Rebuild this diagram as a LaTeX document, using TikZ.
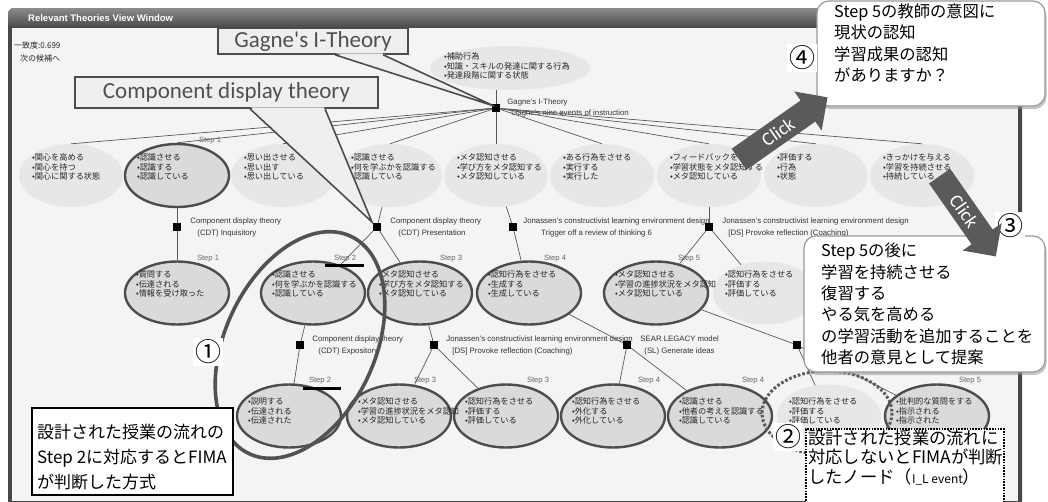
\documentclass[tikz,border=0pt]{standalone}
\usepackage{fontspec}
\setmainfont{Liberation Sans}
\newfontfamily\jpfont{Noto Sans CJK JP}
\newfontfamily\calfont{Carlito}
\usetikzlibrary{positioning,shapes.geometric,shapes.arrows,shadows}
\definecolor{winbg}{HTML}{F4F4F4}
\definecolor{callfill}{HTML}{EFEFEF}
\definecolor{evfill}{HTML}{E7E7E7}
\definecolor{evselfill}{HTML}{DADADA}
\definecolor{evline}{HTML}{4D4D4D}
\definecolor{calltext}{HTML}{505050}
\definecolor{clickgray}{HTML}{5A5A5A}
\begin{document}
\begin{tikzpicture}[x=1pt,y=-1pt,
  ev/.style={ellipse, fill=evfill, minimum width=104pt, minimum height=63pt, inner sep=0pt},
  evsel/.style={ev, fill=evselfill, draw=evline, line width=2.4pt},
  evtxt/.style={anchor=west, align=left, inner sep=0pt, text=black!85, font=\jpfont\fontsize{8.2}{9.5}\selectfont},
  uitxt/.style={anchor=west, inner sep=0pt, text=black!85, font=\jpfont\fontsize{8}{8}\selectfont},
  wintitle/.style={anchor=west, inner sep=0pt, text=white, font=\bfseries\fontsize{9.5}{9.5}\selectfont},
  thsq/.style={fill=black, minimum size=8pt, inner sep=0pt},
  thlbl/.style={anchor=west, align=left, inner sep=0pt, text=black!80, font=\fontsize{7.8}{12}\selectfont},
  steplbl/.style={inner sep=0pt, text=black!60, font=\fontsize{7.6}{8}\selectfont},
  stepbar/.style={line width=2.6pt, black},
  link/.style={draw=black!65, line width=0.7pt},
  callbox/.style={draw=black!70, line width=1.6pt, fill=callfill, text=calltext, font=\calfont\fontsize{23}{23}\selectfont, inner sep=0pt},
  callline/.style={draw=black!70, line width=1.6pt},
  bigring/.style={draw=black!68, line width=3.6pt},
  dotring/.style={draw=black!65, line width=3pt, dash pattern=on 2.6pt off 2pt},
  notebox/.style={draw=black, line width=2pt, fill=white, inner sep=0pt},
  dotbox/.style={draw=black, line width=1.6pt, dash pattern=on 1.6pt off 1.2pt, fill=white, inner sep=0pt},
  notetxt/.style={anchor=west, align=left, inner sep=0pt, font=\jpfont\fontsize{17}{25}\selectfont},
  qbox/.style={rounded corners=12pt, draw=black!40, line width=1.2pt, fill=white, inner sep=0pt,
    drop shadow={shadow xshift=1.5pt, shadow yshift=-3pt, fill=black!45}},
  qtxt/.style={anchor=west, align=left, inner sep=0pt, font=\jpfont\fontsize{16.3}{21.3}\selectfont},
  numtag/.style={fill=white, inner sep=2pt, font=\jpfont\fontsize{26}{26}\selectfont},
  clickarrow/.style={single arrow, fill=clickgray, text=white, font=\calfont\fontsize{19}{19}\selectfont,
    single arrow head extend=11pt, inner xsep=3pt, inner ysep=6pt},
]
\useasboundingbox (0,0) rectangle (1048,501);
% window
\fill[white] (0,0) rectangle (1048,501);
\fill[black!72, rounded corners=6pt] (8,8) rectangle (1022,512);
\shade[top color=black!45, bottom color=black!72, rounded corners=6pt] (8,8) rectangle (1022,28);
\fill[winbg] (12,28) rectangle (1018,501);
\node[wintitle] (title) at (28,18.5) {Relevant Theories View Window};
\node[uitxt] (score) at (14,45) {一致度:0.699};
\node[uitxt] (nextcand) at (20,58) {次の候補へ};

% Gagne
\node[ev, minimum width=160pt, minimum height=44pt] (gtop) at (510,68) {};
\node[evtxt] (gtopt) at ([xshift=14pt,yshift=2pt]gtop.west) {•補助行為\\•知識・スキルの発達に関する行為\\•発達段階に関する状態};
\node[thsq] (gagne) at (496,108) {};
\node[thlbl, right=7pt of gagne, font=\fontsize{7.8}{10.5}\selectfont] (gagnel) {Gagne's I-Theory\\\hspace*{4pt}Gagne's nine events of instruction};

% top row
\node[ev] (E1) at (71,175.5) {};
\node[evsel] (E2) at (177,175.5) {};
\node[ev] (E3) at (283,175.5) {};
\node[ev] (E4) at (390,175.5) {};
\node[ev] (E5) at (496,175.5) {};
\node[ev] (E6) at (602,175.5) {};
\node[ev] (E7) at (709,175.5) {};
\node[ev] (E8) at (816,175.5) {};
\node[ev] (E9) at (922,175.5) {};
\node[evtxt] (E1t) at ([xshift=13pt,yshift=8.5pt]E1.west) {•関心を高める\\•関心を持つ\\•関心に関する状態};
\node[evtxt] (E2t) at ([xshift=13pt,yshift=8.5pt]E2.west) {•認識させる\\•認識する\\•認識している};
\node[evtxt] (E3t) at ([xshift=13pt,yshift=8.5pt]E3.west) {•思い出させる\\•思い出す\\•思い出している};
\node[evtxt] (E4t) at ([xshift=13pt,yshift=8.5pt]E4.west) {•認識させる\\•何を学ぶかを認識する\\•認識している};
\node[evtxt] (E5t) at ([xshift=13pt,yshift=8.5pt]E5.west) {•メタ認知させる\\•学び方をメタ認知する\\•メタ認知している};
\node[evtxt] (E6t) at ([xshift=13pt,yshift=8.5pt]E6.west) {•ある行為をさせる\\•実行する\\•実行した};
\node[evtxt] (E7t) at ([xshift=13pt,yshift=8.5pt]E7.west) {•フィードバックを与える\\•学習状態をメタ認知する\\•メタ認知している};
\node[evtxt] (E8t) at ([xshift=13pt,yshift=8.5pt]E8.west) {•評価する\\•行為\\•状態};
\node[evtxt] (E9t) at ([xshift=13pt,yshift=8.5pt]E9.west) {•きっかけを与える\\•学習を持続させる\\•持続している};

% middle row
\node[evsel] (M1) at (177,293) {};
\node[evsel] (M2) at (313,293) {};
\node[evsel] (M3) at (420,293) {};
\node[evsel] (M4) at (529,293) {};
\node[evsel] (M5) at (656,293) {};
\node[ev] (M6) at (765,293) {};
\node[evtxt] (M1t) at ([xshift=12pt,yshift=9pt]M1.west) {•質問する\\•伝達される\\•情報を受け取った};
\node[evtxt] (M2t) at ([xshift=12pt,yshift=9pt]M2.west) {•認識させる\\•何を学ぶかを認識する\\•認識している};
\node[evtxt] (M3t) at ([xshift=12pt,yshift=9pt]M3.west) {•メタ認知させる\\•学び方をメタ認知する\\•メタ認知している};
\node[evtxt] (M4t) at ([xshift=12pt,yshift=9pt]M4.west) {•認知行為をさせる\\•生成する\\•生成している};
\node[evtxt] (M5t) at ([xshift=12pt,yshift=9pt]M5.west) {•メタ認知させる\\•学習の進捗状況をメタ認知\\•メタ認知している};
\node[evtxt] (M6t) at ([xshift=12pt,yshift=9pt]M6.west) {•認知行為をさせる\\•評価する\\•評価している};

% bottom row
\node[evsel] (B1) at (289,416) {};
\node[evsel] (B2) at (399,416) {};
\node[evsel] (B3) at (506,416) {};
\node[evsel] (B4) at (613,416) {};
\node[evsel] (B5) at (720,416) {};
\node[ev] (B6) at (829,416) {};
\node[evsel] (B7) at (937,416) {};
\node[evtxt] (B1t) at ([xshift=12pt,yshift=5pt]B1.west) {•説明する\\•伝達される\\•伝達された};
\node[evtxt] (B2t) at ([xshift=12pt,yshift=5pt]B2.west) {•メタ認知させる\\•学習の進捗状況をメタ認知\\•メタ認知している};
\node[evtxt] (B3t) at ([xshift=12pt,yshift=5pt]B3.west) {•認知行為をさせる\\•評価する\\•評価している};
\node[evtxt] (B4t) at ([xshift=12pt,yshift=5pt]B4.west) {•認知行為をさせる\\•外化する\\•外化している};
\node[evtxt] (B5t) at ([xshift=12pt,yshift=5pt]B5.west) {•認識させる\\•他者の考えを認識する\\•認識している};
\node[evtxt] (B6t) at ([xshift=12pt,yshift=5pt]B6.west) {•認知行為をさせる\\•評価する\\•評価している};
\node[evtxt] (B7t) at ([xshift=12pt,yshift=5pt]B7.west) {•批判的な質問をする\\•指示される\\•指示された};

% theory nodes
\node[thsq] (cdti) at (177,227) {};
\node[thlbl, right=9pt of cdti] (cdtil) {Component display theory\\\hspace*{7pt}(CDT) Inquisitory};
\node[thsq] (cdtp) at (377,227) {};
\node[thlbl, right=9pt of cdtp] (cdtpl) {Component display theory\\\hspace*{8pt}(CDT) Presentation};
\node[thsq] (jont) at (513,227) {};
\node[thlbl, right=6pt of jont] (jontl) {Jonassen's constructivist learning environment design\\\hspace*{18pt}Trigger off a review of thinking 6};
\node[thsq] (jond) at (709,227) {};
\node[thlbl, right=9pt of jond] (jondl) {Jonassen's constructivist learning environment design\\\hspace*{6pt}[DS] Provoke reflection (Coaching)};
\node[thsq] (cdte) at (300,345) {};
\node[thlbl, right=8pt of cdte] (cdtel) {Component display theory\\\hspace*{6pt}(CDT) Expository};
\node[thsq] (jond2) at (434,345) {};
\node[thlbl, right=8pt of jond2] (jond2l) {Jonassen's constructivist learning environment design\\\hspace*{6pt}[DS] Provoke reflection (Coaching)};
\node[thsq] (slg) at (627,345) {};
\node[thlbl, right=9pt of slg] (slgl) {SEAR LEGACY model\\\hspace*{4pt}(SL) Generate ideas};
\node[thsq] (thx) at (797,345) {};

% links
\draw[link] (gtop.south -| gagne) -- (gagne);
\draw[link] (gagne) -- (E1.north);
\draw[link] (gagne) -- (E2.north);
\draw[link] (gagne) -- (E3.north);
\draw[link] (gagne) -- (E4.north);
\draw[link] (gagne) -- (E5.north);
\draw[link] (gagne) -- (E6.north);
\draw[link] (gagne) -- (E7.north);
\draw[link] (gagne) -- (E8.north);
\draw[link] (gagne) -- (E9.north);
\draw[link] (E2) -- (cdti);
\draw[link] (cdti) -- (M1);
\draw[link] (E4) -- (cdtp);
\draw[link] (cdtp) -- (M2);
\draw[link] (cdtp) -- (M3);
\draw[link] (E5) -- (jont);
\draw[link] (jont) -- (M4);
\draw[link] (E7) -- (jond);
\draw[link] (jond) -- (M5);
\draw[link] (jond) -- (M6);
\draw[link] (M2) -- (cdte);
\draw[link] (cdte) -- (B1);
\draw[link] (M3) -- (jond2);
\draw[link] (jond2) -- (B2);
\draw[link] (jond2) -- (B3);
\draw[link] (M4) -- (slg);
\draw[link] (slg) -- (B4);
\draw[link] (slg) -- (B5);
\draw[link] (M5) -- (thx);
\draw[link] (thx) -- (B6);
\draw[link] (thx) -- (B7);

% step labels
\node[steplbl, above=-1pt of E2.north, xshift=33pt] (E2s) {Step 1};
\node[steplbl, above=-2pt of M1.north, xshift=31pt] (M1s) {Step 1};
\node[steplbl, above=-2pt of M2.north, xshift=32pt] (M2s) {Step 2};
\node[steplbl, above=-2pt of M3.north, xshift=31pt] (M3s) {Step 3};
\node[steplbl, above=-2pt of M4.north, xshift=26pt] (M4s) {Step 4};
\node[steplbl, above=-2pt of M5.north, xshift=33pt] (M5s) {Step 5};
\node[steplbl, above=-1pt of B1.north, xshift=31pt] (B1s) {Step 2};
\node[steplbl, above=-1pt of B2.north, xshift=26pt] (B2s) {Step 3};
\node[steplbl, above=-1pt of B3.north, xshift=32pt] (B3s) {Step 3};
\node[steplbl, above=-1pt of B4.north, xshift=36pt] (B4s) {Step 4};
\node[steplbl, above=-1pt of B5.north, xshift=33pt] (B5s) {Step 4};
\node[steplbl, above=-1pt of B7.north, xshift=33pt] (B7s) {Step 5};
\draw[stepbar] ([xshift=-9pt,yshift=-3pt]M2s.south west) -- ([xshift=8pt,yshift=-3pt]M2s.south east);
\draw[stepbar] ([xshift=-6pt,yshift=-4pt]B1s.south west) -- ([xshift=10pt,yshift=-4pt]B1s.south east);

% callouts
\node[callbox, minimum width=190pt, minimum height=26pt] (gagnecall) at (313,41) {Gagne's I-Theory};
\fill[callfill] ([xshift=23pt,yshift=1.5pt]gagnecall.south) -- ([xshift=-2pt,yshift=2pt]gagne.center) -- ([xshift=69pt,yshift=1.5pt]gagnecall.south) -- cycle;
\draw[callline] ([xshift=22pt]gagnecall.south) -- ([xshift=-2pt,yshift=2pt]gagne.center) -- ([xshift=70pt]gagnecall.south);
\node[callbox, minimum width=303pt, minimum height=31pt] (cdtcall) at (226.5,92.5) {Component display theory};
\fill[callfill] ([xshift=24.5pt,yshift=1.5pt]cdtcall.south) -- ([xshift=-5pt,yshift=5pt]cdtp.center) -- ([xshift=97.5pt,yshift=1.5pt]cdtcall.south) -- cycle;
\draw[callline] ([xshift=23.5pt]cdtcall.south) -- ([xshift=-5pt,yshift=5pt]cdtp.center) -- ([xshift=98.5pt]cdtcall.south);

% annotations
\draw[bigring, rotate around={65:(300,345)}] (300,345) ellipse [x radius=120, y radius=75];
\node[numtag] (tag1) at (208,352) {①};
\draw[dotring] (827,413) ellipse [x radius=65, y radius=42];
\node[notebox, minimum width=201pt, minimum height=87pt] (fitbox) at (132.5,451.5) {};
\node[notetxt] (fittxt) at (37,457.5) {設計された授業の流れの\\Step 2に対応するとFIMA\\が判断した方式};
\node[dotbox, minimum width=198pt, minimum height=80pt] (nofitbox) at (905,469) {};
\node[numtag] (tag2) at (788,437) {②};
\node[notetxt, font=\jpfont\fontsize{17.3}{19.6}\selectfont] (nofittxt) at (808,457.5) {設計された授業の流れに\\対応しないとFIMAが判断\\したノード（{\fontsize{12}{12}\selectfont I\_L event}）};

\node[qbox, minimum width=241pt, minimum height=136pt] (q3box) at (924.5,304) {};
\node[qtxt] (q3txt) at (821,304) {Step 5の後に\\学習を持続させる\\復習する\\やる気を高める\\の学習活動を追加することを\\他者の意見として提案};
\node[qbox, minimum width=228pt, minimum height=105pt] (q4box) at (931,53.5) {};
\node[qtxt] (q4txt) at (834,43) {Step 5の教師の意図に\\現状の認知\\学習成果の認知\\がありますか？};
\node[numtag] (tag3) at (1010,226) {③};
\node[numtag] (tag4) at (802,58) {④};
\node[clickarrow, minimum height=108pt, rotate=35] (click4) at (778,132) {Click};
\node[clickarrow, minimum height=98pt, rotate=-55] (click3) at (964,211) {Click};
\end{tikzpicture}
\end{document}
